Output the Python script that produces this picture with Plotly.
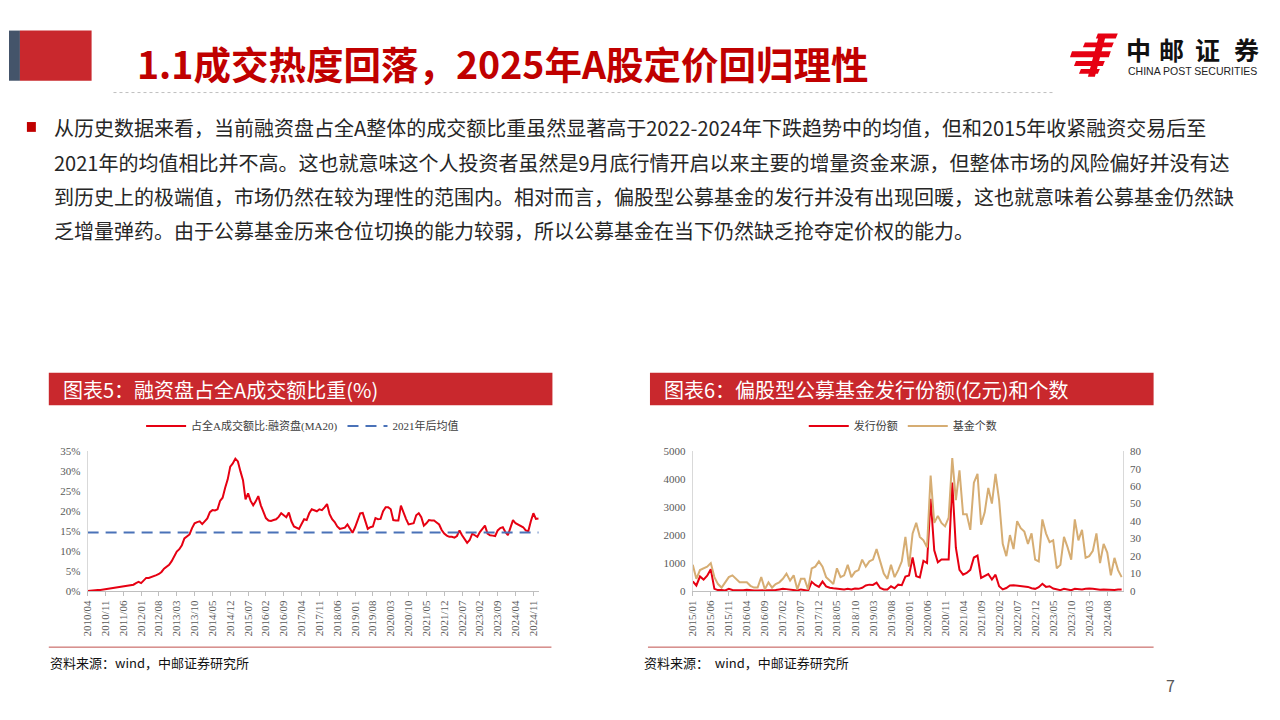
import plotly.graph_objects as go
import pandas as pd

W, H = 1280, 720
def X(px): return px / W
def Y(py): return 1 - py / H

# ---------------- data ----------------
# Chart 5: margin-financing share of all-A turnover (%), monthly, from 2010/04
margin_share = [
    0.0, 0.1, 0.15, 0.2, 0.25, 0.3, 0.4, 0.5, 0.6, 0.7,
    0.8, 0.9, 1.0, 1.1, 1.2, 1.2, 1.4, 1.5, 1.6, 2.0,
    2.3, 2.0, 2.6, 3.3, 3.3, 3.5, 3.8, 4.0, 4.3, 4.8,
    5.6, 6.1, 6.6, 7.5, 8.8, 9.9, 10.5, 11.5, 13.2, 13.8,
    14.2, 15.8, 17.0, 17.3, 17.5, 16.8, 17.5, 18.2, 19.8, 20.3,
    20.2, 20.5, 22.6, 23.4, 25.9, 28.0, 31.2, 32.0, 33.2, 32.5,
    30.0, 27.8, 23.0, 24.5, 22.6, 21.5, 22.5, 23.8, 21.5, 19.8,
    18.3, 17.7, 17.6, 17.8, 18.0, 18.6, 19.5, 19.0, 18.5, 19.7,
    17.5, 16.2, 15.8, 15.6, 16.8, 18.0, 17.8, 19.5, 20.5, 20.2,
    20.0, 20.5, 20.3, 21.0, 21.8, 19.3, 18.0, 17.3, 16.2, 15.6,
    15.8, 15.9, 16.7, 15.6, 14.6, 16.0, 18.0, 19.5, 19.6, 17.5,
    15.6, 16.0, 16.2, 18.3, 18.0, 18.1, 20.0, 21.0, 21.0, 20.5,
    17.8, 17.7, 17.7, 21.4, 19.5, 18.1, 16.7, 16.8, 17.0, 19.0,
    19.5, 18.5, 16.4, 17.0, 17.8, 17.7, 17.7, 17.2, 16.7, 15.3,
    14.4, 13.9, 13.6, 13.6, 13.4, 13.8, 15.2, 14.0, 13.1, 12.1,
    12.8, 14.4, 14.0, 13.6, 14.8, 15.5, 16.4, 14.4, 14.0, 13.9,
    13.8, 15.2, 15.8, 16.0, 14.8, 14.0, 16.0, 17.8, 17.0, 16.7,
    16.4, 16.0, 15.2, 15.0, 17.5, 19.5, 18.1, 18.2,
]
avg_since_2021 = 14.7
months_left = list(pd.date_range("2010-04-01", periods=len(margin_share), freq="MS").strftime("%Y/%m"))

# Chart 6: equity-fund issuance (100m yuan) and number of funds, monthly, from 2015/01
issuance = [
    350, 200, 520, 410, 550, 780, 80, 35, 35, 20,
    80, 40, 30, 25, 30, 50, 30, 20, 20, 25,
    20, 30, 20, 40, 60, 80, 70, 50, 40, 20,
    60, 40, 10, 330, 220, 150, 340, 170, 120, 100,
    90, 60, 60, 80, 60, 90, 80, 120, 200, 230,
    220, 300, 110, 60, 60, 170, 100, 230, 210, 520,
    560, 1200, 530, 490, 1080, 1000, 3300, 1460, 1030, 1130,
    1140, 1130, 3880, 1550, 760, 585, 650, 760, 1200, 1270,
    470, 550, 610, 410, 585, 175, 60, 110, 200, 210,
    190, 175, 160, 150, 100, 80, 140, 260, 150, 175,
    90, 50, 35, 80, 60, 30, 80, 70, 60, 80,
    95, 80, 60, 50, 60, 47, 35, 40, 60, 60,
]
fund_count = [
    15, 7, 12, 13, 14, 16, 8, 4, 2, 5,
    8, 9, 7, 5, 5, 5, 3, 2, 2, 8,
    1, 5, 2, 4, 5, 7, 10, 6, 9, 1,
    7, 7, 1, 13, 14, 17, 14, 8, 6, 4,
    13, 8, 9, 15, 8, 11, 12, 18, 14, 17,
    18, 24, 17, 10, 7, 15, 8, 12, 17, 31,
    14, 33, 39, 31, 29, 25, 66, 39, 43, 39,
    37, 42, 76, 52, 69, 44, 44, 35, 62, 67,
    38, 45, 59, 50, 67, 52, 27, 20, 32, 24,
    40, 36, 34, 27, 33, 18, 17, 41, 33, 28,
    29, 13, 15, 31, 25, 18, 41, 29, 35, 19,
    20, 23, 33, 16, 27, 22, 9, 19, 12, 8,
]
months_right = list(pd.date_range("2015-01-01", periods=len(issuance), freq="MS").strftime("%Y/%m"))

left_yticks = [0, 5, 10, 15, 20, 25, 30, 35]
left_yticktext = [f"{v}%" for v in left_yticks]

# ---------------- styles ----------------
RED = "#E60012"
BLUE = "#4A72B8"
TAN = "#D6AD73"
BANNER = "#C9282D"
SERIF = "Liberation Serif, Noto Sans CJK SC, serif"
SANS = "Noto Sans CJK SC, Noto Sans, sans-serif"
TICKC = "#595959"
AXC = "#BFBFBF"

fig = go.Figure()
fig.add_trace(go.Scatter(x=months_left, y=margin_share, mode="lines", name="占全A成交额比:融资盘(MA20)",
                         line=dict(color=RED, width=2), xaxis="x", yaxis="y", legend="legend"))
fig.add_trace(go.Scatter(x=months_left, y=[avg_since_2021] * len(months_left), mode="lines", name="2021年后均值",
                         line=dict(color=BLUE, width=2, dash="11px,7px"), xaxis="x", yaxis="y", legend="legend"))
fig.add_trace(go.Scatter(x=months_right, y=issuance, mode="lines", name="发行份额",
                         line=dict(color=RED, width=2), xaxis="x2", yaxis="y2", legend="legend2"))
fig.add_trace(go.Scatter(x=months_right, y=fund_count, mode="lines", name="基金个数",
                         line=dict(color=TAN, width=2), xaxis="x2", yaxis="y3", legend="legend2"))

tickfont = dict(family=SERIF, size=11, color=TICKC)
xcommon = dict(type="category", tickangle=-90, showline=True, linecolor=AXC, linewidth=1,
               ticks="outside", ticklen=4, tickcolor=AXC, tickfont=tickfont, showgrid=False,
               zeroline=False, fixedrange=True)
ycommon = dict(showline=True, linecolor="#D9D9D9", linewidth=1, showgrid=False, zeroline=False,
               ticks="", tickfont=tickfont, fixedrange=True)

fig.update_layout(
    width=W, height=H, margin=dict(l=0, r=0, t=0, b=0),
    paper_bgcolor="white", plot_bgcolor="white",
    xaxis=dict(domain=[X(82), X(536)], range=[0, 177.4], tickmode="array",
               tickvals=months_left[::7], anchor="y", **xcommon),
    yaxis=dict(domain=[Y(595), Y(453)], range=[0, 35], tickmode="array", tickvals=left_yticks,
               ticktext=left_yticktext, anchor="x", ticklabelstandoff=4, **ycommon),
    xaxis2=dict(domain=[X(690), X(1122)], range=[0, 119.3], tickmode="array",
                tickvals=months_right[::5], anchor="y2", **xcommon),
    yaxis2=dict(domain=[Y(595), Y(452.7)], range=[0, 5000], dtick=1000, anchor="x2",
                ticklabelstandoff=4, **ycommon),
    yaxis3=dict(range=[0, 80], dtick=10, overlaying="y2", side="right", anchor="x2",
                ticklabelstandoff=4, **ycommon),
    legend=dict(orientation="h", x=X(298), xanchor="center", y=Y(427), yanchor="middle",
                font=dict(family=SERIF, size=11, color="#404040"), bgcolor="rgba(0,0,0,0)",
                itemwidth=40),
    legend2=dict(orientation="h", x=X(901), xanchor="center", y=Y(427), yanchor="middle",
                 font=dict(family=SERIF, size=11, color="#404040"), bgcolor="rgba(0,0,0,0)",
                 itemwidth=40),
    showlegend=True,
)

shapes = []
annotations = []

def rect(x0, y0, x1, y1, color):
    shapes.append(dict(type="rect", xref="paper", yref="paper", x0=X(x0), x1=X(x1), y0=Y(y1), y1=Y(y0),
                       fillcolor=color, line=dict(width=0), layer="above"))

def line(x0, y0, x1, y1, color, width=1, dash="solid"):
    shapes.append(dict(type="line", xref="paper", yref="paper", x0=X(x0), x1=X(x1), y0=Y(y0), y1=Y(y1),
                       line=dict(color=color, width=width, dash=dash)))

def poly(pts, color):
    d = "M " + " L ".join(f"{X(a):.5f},{Y(b):.5f}" for a, b in pts) + " Z"
    shapes.append(dict(type="path", xref="paper", yref="paper", path=d, fillcolor=color,
                       line=dict(width=0)))

def text(x, y, s, size, color, family=SANS, xanchor="left", bold=False):
    annotations.append(dict(xref="paper", yref="paper", x=X(x), y=Y(y), text=(f"<b>{s}</b>" if bold else s),
                            showarrow=False, xanchor=xanchor, yanchor="middle", borderpad=0,
                            font=dict(family=family, size=size, color=color)))

# header blocks
rect(3, 25, 14, 76, "#44546A")
rect(14, 25, 86, 76, BANNER)
text(131, 57, "1.1成交热度回落，2025年A股定价回归理性", 37.5, "#C00000", bold=True)
line(108, 88, 1052, 88, "#BFBFBF", 1, "dot")

# logo emblem
LOGO = "#E60012"
poly([(1097, 28), (1117, 28), (1115, 33), (1095, 33)], LOGO)
poly([(1084, 37), (1113, 37), (1111, 42), (1082, 42)], LOGO)
poly([(1071, 46), (1110, 46), (1108, 52), (1069, 52)], LOGO)
poly([(1075, 56), (1104, 56), (1102, 61), (1073, 61)], LOGO)
poly([(1080, 64), (1099, 64), (1097, 69), (1078, 69)], LOGO)
poly([(1098, 30), (1105, 30), (1094, 72), (1087, 72)], LOGO)
for cx, ch in zip([1138, 1171, 1207, 1246], "中邮证券"):
    text(cx, 44, ch, 25, "#111111", xanchor="center", bold=True)
text(1192, 66, "CHINA POST SECURITIES", 10.5, "#222222", family="Liberation Sans, Arial", xanchor="center")

# bullet paragraph
rect(21, 118, 30, 128, "#C00000")
body = [
    "从历史数据来看，当前融资盘占全A整体的成交额比重虽然显著高于2022-2024年下跌趋势中的均值，但和2015年收紧融资交易后至",
    "2021年的均值相比并不高。这也就意味这个人投资者虽然是9月底行情开启以来主要的增量资金来源，但整体市场的风险偏好并没有达",
    "到历史上的极端值，市场仍然在较为理性的范围内。相对而言，偏股型公募基金的发行并没有出现回暖，这也就意味着公募基金仍然缺",
    "乏增量弹药。由于公募基金历来仓位切换的能力较弱，所以公募基金在当下仍然缺乏抢夺定价权的能力。",
]
for i, s in enumerate(body):
    text(47, 124 + i * 34.7, s, 20, "#262626")

# chart banners
rect(43, 373, 549, 406, BANNER)
text(56, 389.5, "图表5：融资盘占全A成交额比重(%)", 20, "white")
rect(647, 373, 1153, 406, BANNER)
text(660, 389.5, "图表6：偏股型公募基金发行份额(亿元)和个数", 20, "white")

# source lines
line(43, 652, 548, 652, "#C0504D", 1)
line(645, 652, 1153, 652, "#C0504D", 1)
text(43, 668, "资料来源：wind，中邮证券研究所", 13, "#111111")
text(640, 668, "资料来源：  wind，中邮证券研究所", 13, "#111111")

# page number
text(1170, 690, "7", 16, "#595959", xanchor="center")

fig.update_layout(shapes=shapes, annotations=annotations)
fig.write_html("out.html", config={"displayModeBar": False},
               post_script="document.body.style.margin='0';document.body.style.overflow='hidden';")
